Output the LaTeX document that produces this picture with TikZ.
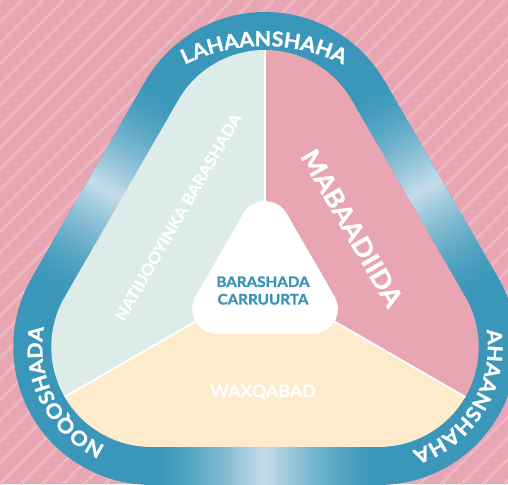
\documentclass[tikz,border=0pt]{standalone}
\usepackage{fontspec}
\setmainfont{Lato}[BoldFeatures={FakeBold=1.2, FakeStretch=1.05}]
\usetikzlibrary{calc,decorations.text}
\definecolor{bgpink}{HTML}{E8A6B3}
\definecolor{stripecol}{HTML}{EDB9C3}
\definecolor{bandblue}{HTML}{3A97BA}
\definecolor{bandlight}{HTML}{C6DDEA}
\definecolor{mint}{HTML}{DEECE9}
\definecolor{secpink}{HTML}{E8A6B3}
\definecolor{cream}{HTML}{FDEBCC}
\definecolor{txtblue}{HTML}{3794B8}
\newcommand\bandfont{\fontsize{20.5}{20.5}\selectfont\bfseries}
\tikzset{
  rtri/.style 2 args={insert path={($(cen)+(330:#1pt)+(-90:#2pt)$) arc[start angle=-90,end angle=30,radius=#2pt] -- ($(cen)+(90:#1pt)+(30:#2pt)$) arc[start angle=30,end angle=150,radius=#2pt] -- ($(cen)+(210:#1pt)+(150:#2pt)$) arc[start angle=150,end angle=270,radius=#2pt] -- cycle}},
  seclabel/.style={text=white, font=\bfseries},
  bandlabel/.style={decorate, decoration={text along path, text align={fit to path}, text color=white}},
}
\begin{document}
\begin{tikzpicture}[x=1pt,y=1pt]
\useasboundingbox (0,0) rectangle (508,484);
% background
\fill[bgpink] (0,0) rectangle (508,484);
\begin{scope}
  \clip (0,0) rectangle (508,484);
  \foreach \k in {-504,-483,...,520}{
    \draw[stripecol, line width=2.6pt] (\k,0) -- (\k+484,484);
  }
\end{scope}
\coordinate (cen) at (265,202.7);
\coordinate (c1) at ($(cen)+(90:131.3pt)$);
\coordinate (c2) at ($(cen)+(210:131.3pt)$);
\coordinate (c3) at ($(cen)+(330:131.3pt)$);
% band
\fill[bandblue, rtri={131.3}{138}];
\foreach \ang/\rot in {150/60, 270/0, 30/-60}{
  \begin{scope}[shift={($(cen)+(\ang:184.65pt)$)}, rotate=\rot]
    \foreach \i in {0,...,59}{
      \pgfmathsetmacro\tt{(\i+0.5)/60*2-1}
      \pgfmathsetmacro\pp{100*(1-abs(\tt))^1.5}
      \fill[bandlight!\pp!bandblue] ({-113.7+\i*227.4/60},-19) rectangle ({-113.7+(\i+1)*227.4/60+0.4},19);
    }
  \end{scope}
}
% sectors
\begin{scope}
  \clip[rtri={131.3}{100}];
  \fill[mint] (cen) -- ($(cen)+(90:500pt)$) -- ($(cen)+(150:600pt)$) -- ($(cen)+(210:500pt)$) -- cycle;
  \fill[secpink] (cen) -- ($(cen)+(90:500pt)$) -- ($(cen)+(30:600pt)$) -- ($(cen)+(330:500pt)$) -- cycle;
  \fill[cream] (cen) -- ($(cen)+(210:500pt)$) -- ($(cen)+(270:600pt)$) -- ($(cen)+(330:500pt)$) -- cycle;
  \draw[white, line width=1.8pt] (cen) -- ($(cen)+(90:300pt)$);
  \draw[white, line width=1.8pt] (cen) -- ($(cen)+(210:300pt)$);
  \draw[white, line width=1.8pt] (cen) -- ($(cen)+(330:300pt)$);
\end{scope}
% centre
\fill[white, rtri={55.3}{25}];
% band labels
\coordinate (tc) at (264,260);
\path[bandlabel, decoration={text={|\bandfont|LAHAANSHAHA}}] ($(tc)+(116.4:178pt)$) arc[start angle=116.4, end angle=63.9, radius=178pt];
\path[bandlabel, decoration={text={|\bandfont|NOQOSHADA}}] ($(c2)+(245:109pt)$) arc[start angle=245, end angle=173, radius=109pt];
\path[bandlabel, decoration={text={|\bandfont|AHAANSHAHA}}] ($(c3)+(9:109pt)$) arc[start angle=9, end angle=-72, radius=109pt];
% sector labels
\node[seclabel, rotate=60, font=\fontsize{16}{17}\selectfont\bfseries] (natiij) at (178,267) {NATIIJOOYINKA BARASHADA};
\node[seclabel, rotate=-60, font=\fontsize{26}{28}\selectfont\bfseries] (mabaad) at (352,256) {MABAADIIDA};
\node[seclabel, font=\fontsize{17}{18}\selectfont\bfseries] (waxq) at (263,92) {WAXQABAD};
\node[text=txtblue, align=center, font=\fontsize{14.5}{17.5}\selectfont\bfseries] (bara) at (263,193.5) {BARASHADA\\CARRUURTA};
\end{tikzpicture}
\end{document}
